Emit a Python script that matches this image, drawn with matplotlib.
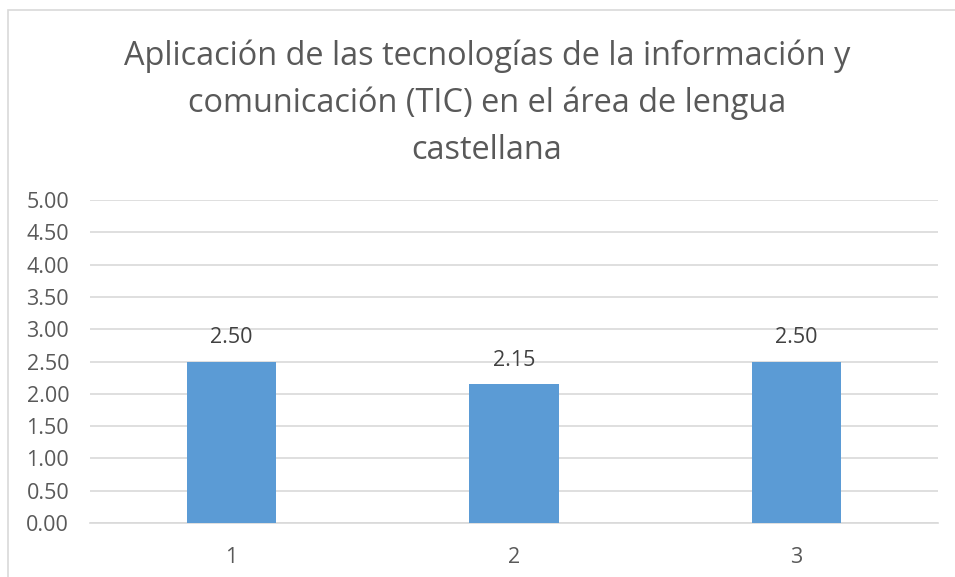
import matplotlib.pyplot as plt
from matplotlib.patches import Rectangle

categories = ['1', '2', '3']
values = [2.50, 2.15, 2.50]
yticks = [0, 0.5, 1, 1.5, 2, 2.5, 3, 3.5, 4, 4.5, 5]
title = ('Aplicación de las tecnologías de la información y\n'
         'comunicación (TIC) en el área de lengua\n'
         'castellana')

plt.rcParams['font.family'] = ['Open Sans', 'DejaVu Sans']
text_color = '#595959'

W, H = 955, 577
fig = plt.figure(figsize=(W / 100, H / 100), dpi=100)

# chart border (light gray, runs off the right/bottom of the crop)
fig.patches.append(Rectangle((7.5 / W, -0.1), 1.2, 1 - 9.5 / H + 0.1,
                             transform=fig.transFigure, fill=False,
                             edgecolor='#D9D9D9', linewidth=1.2))

ax = fig.add_axes([90 / W, 1 - 523 / H, (938 - 90) / W, (523 - 200) / H])
x = range(1, len(categories) + 1)
bars = ax.bar(x, values, width=0.315, color='#5B9BD5', zorder=3)

for b, v in zip(bars, values):
    ax.text(b.get_x() + b.get_width() / 2, v + 0.28, f'{v:.2f}',
            ha='center', va='baseline', fontsize=15.5, color='#404040')

ax.set_xlim(0.5, 3.5)
ax.set_ylim(0, 5)
ax.set_yticks(yticks)
ax.set_yticklabels([f'{t:.2f}' for t in yticks])
ax.set_xticks(list(x))
ax.set_xticklabels(categories)
ax.tick_params(axis='both', length=0, labelsize=15.5, colors=text_color)
ax.tick_params(axis='y', pad=15)
ax.tick_params(axis='x', pad=17)
ax.grid(axis='y', color='#D9D9D9', linewidth=1.2, zorder=0)
for s in ['top', 'right', 'left']:
    ax.spines[s].set_visible(False)
ax.spines['bottom'].set_color('#D9D9D9')
ax.spines['bottom'].set_linewidth(1.2)

fig.text(487 / W, 1 - 103 / H, title, ha='center', va='center',
         fontsize=23.4, color=text_color, linespacing=1.55)

fig.savefig('out.png', dpi=100)
